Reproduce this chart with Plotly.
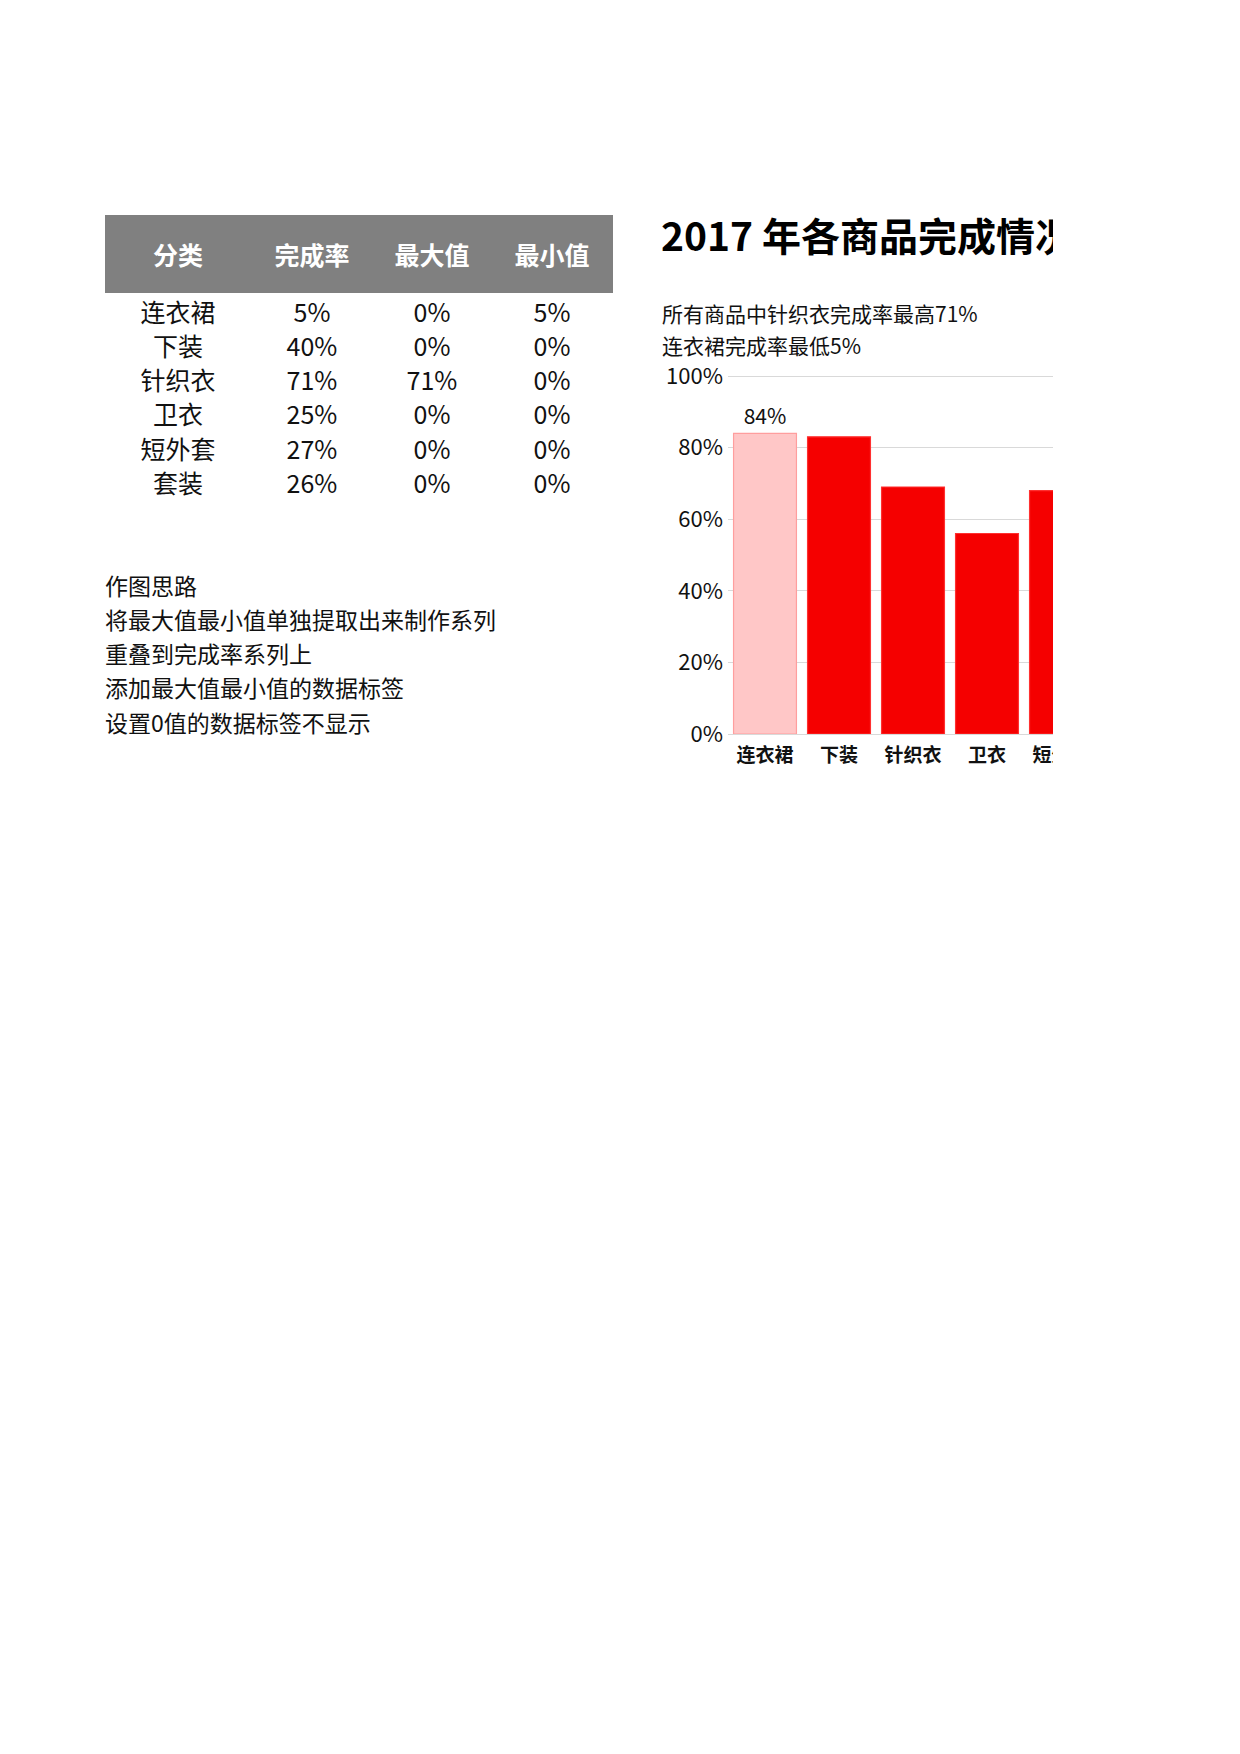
import plotly.graph_objects as go

# table data
categories = ['连衣裙', '下装', '针织衣', '卫衣', '短外套', '套装']
rate = [5, 40, 71, 25, 27, 26]
max_val = [0, 0, 71, 0, 0, 0]
min_val = [5, 0, 0, 0, 0, 0]
headers = ['分类', '完成率', '最大值', '最小值']

notes = ['作图思路', '将最大值最小值单独提取出来制作系列', '重叠到完成率系列上',
         '添加最大值最小值的数据标签', '设置0值的数据标签不显示']

# chart data (as drawn)
chart_cats = ['连衣裙', '下装', '针织衣', '卫衣', '短外套']
chart_vals = [0.84, 0.83, 0.69, 0.56, 0.68]

title = '2017 年各商品完成情况'
subtitle = ['所有商品中针织衣完成率最高71%', '连衣裙完成率最低5%']

# page layout (page pixels; the figure sits inside the 8px body margin)
OFF = 8
W, H = 1200, 1736
CLIP = 1053
FONT = 'Noto Sans CJK SC'
ROW_TOP, ROW_H = 315.5, 34.2
COL_W = [146, 122, 118, 122]
PITCH = 74
Y0, Y100 = 734, 376   # pixel rows of 0% and 100%
YTOP = 1.01


def fx(p):
    return (p - OFF) / W


def fy(p):
    return 1 - (p - OFF) / H


def row_of(p):
    return (p - ROW_TOP) / ROW_H


col_x = []
acc = 0
for w in COL_W:
    col_x.append(acc + w / 2)
    acc += w

fig = go.Figure()

# chart
hi = chart_vals.index(max(chart_vals))
colors = ['#FFC7C7' if i == hi else '#F50000' for i in range(len(chart_vals))]
lines = ['#FF9E9E' if i == hi else '#FF3030' for i in range(len(chart_vals))]
texts = [f'{v:.0%}' if i == hi else '' for i, v in enumerate(chart_vals)]
fig.add_trace(go.Bar(x=chart_cats, y=chart_vals, marker=dict(color=colors, line=dict(color=lines, width=1.2)),
                     text=texts, textposition='outside', textfont=dict(size=21, color='#111111', family=FONT),
                     xaxis='x', yaxis='y', showlegend=False))

# table body
cols = [categories, [f'{v}%' for v in rate], [f'{v}%' for v in max_val], [f'{v}%' for v in min_val]]
for j, c in enumerate(cols):
    fig.add_trace(go.Scatter(x=[col_x[j]] * len(c), y=list(range(len(c))), text=c, mode='text',
                             textposition='middle center', textfont=dict(size=25, color='#111111', family=FONT),
                             xaxis='x2', yaxis='y2', showlegend=False, cliponaxis=False))

# header
fig.add_shape(type='rect', xref='x2', yref='y2', x0=0, x1=sum(COL_W), y0=row_of(215), y1=row_of(293),
              fillcolor='#808080', line=dict(width=0), layer='below')
fig.add_trace(go.Scatter(x=col_x, y=[row_of(259)] * len(headers), text=headers, mode='text',
                         textposition='middle center',
                         textfont=dict(size=25, color='white', family=FONT, weight='bold'),
                         xaxis='x2', yaxis='y2', showlegend=False, cliponaxis=False))

# notes
fig.add_trace(go.Scatter(x=[0] * len(notes), y=[8 + i for i in range(len(notes))], text=notes, mode='text',
                         textposition='middle right', textfont=dict(size=23, color='#111111', family=FONT),
                         xaxis='x2', yaxis='y2', showlegend=False, cliponaxis=False))

# subtitle lines
for i, s in enumerate(subtitle):
    fig.add_annotation(text=s, xref='paper', yref='paper', x=fx(660), y=fy(313 + 32 * i),
                       xanchor='left', yanchor='middle', showarrow=False,
                       font=dict(size=21, color='#111111', family=FONT))

# chart title, kept in the shape layer so the page edge can cut it
fig.add_shape(type='rect', xref='paper', yref='paper', x0=fx(655), x1=fx(1230), y0=fy(260), y1=fy(220),
              line=dict(width=0), fillcolor='rgba(0,0,0,0)', layer='above',
              label=dict(text='<b>' + title + '</b>', textposition='middle left', padding=3,
                         font=dict(size=39, color='black', family=FONT)))

# the page cuts the chart off on the right
fig.add_shape(type='rect', xref='paper', yref='paper', x0=fx(CLIP), x1=1, y0=fy(800), y1=fy(190),
              fillcolor='white', line=dict(width=0), layer='above')

n = len(chart_cats)
fig.update_layout(
    width=W, height=H, autosize=False,
    margin=dict(l=0, r=0, t=0, b=0, pad=0, autoexpand=False),
    paper_bgcolor='white', plot_bgcolor='white',
    font=dict(family=FONT, color='#111111'),
    showlegend=False,
    bargap=0.15,
    hovermode=False,
    xaxis=dict(domain=[fx(728), fx(728 + PITCH * n)], range=[-0.5, n - 0.5], showgrid=False, zeroline=False,
               showline=False, ticks='', ticklabelstandoff=8, automargin=False,
               tickfont=dict(size=19, color='#111111', family=FONT, weight='bold'), anchor='y'),
    yaxis=dict(domain=[fy(Y0), fy(Y0 - YTOP * (Y0 - Y100))], range=[0, YTOP], dtick=0.2, tickformat='.0%',
               showgrid=True, gridcolor='#D9D9D9', gridwidth=1.3, zeroline=True, zerolinecolor='#D9D9D9',
               zerolinewidth=1.3, showline=False, ticks='', ticklabelstandoff=4, automargin=False,
               tickfont=dict(size=22, color='#111111', family=FONT), anchor='x'),
    xaxis2=dict(domain=[fx(105), fx(613)], range=[0, sum(COL_W)], visible=False, anchor='y2', automargin=False),
    yaxis2=dict(domain=[fy(760), fy(215)], range=[row_of(760), row_of(215)], visible=False, anchor='x2',
                automargin=False),
)

fig.write_html('out.html', config={'displayModeBar': False})
